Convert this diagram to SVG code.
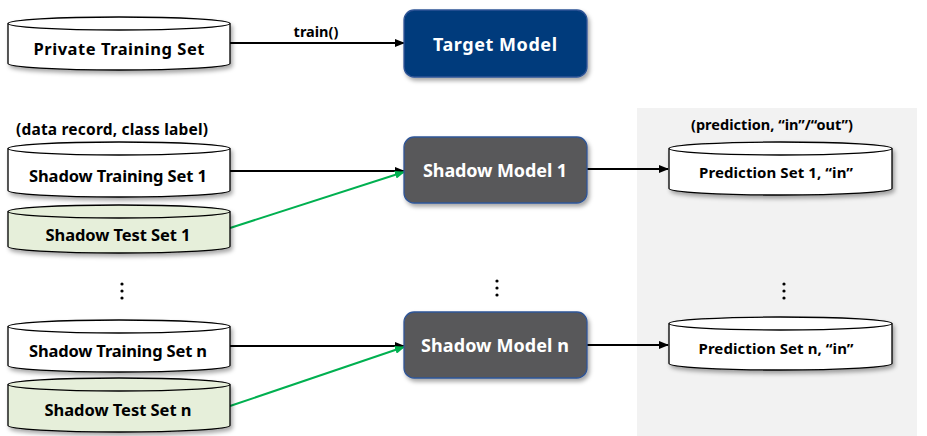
<svg xmlns="http://www.w3.org/2000/svg" width="927" height="436" viewBox="0 0 927 436">
<defs>
<filter id="sh" x="-10%" y="-20%" width="125%" height="150%">
<feDropShadow dx="2" dy="3" stdDeviation="2" flood-color="#000" flood-opacity="0.35"/>
</filter>
<marker id="ab" markerWidth="10" markerHeight="8" refX="9" refY="4" orient="auto" markerUnits="userSpaceOnUse">
<path d="M0,0 L10,4 L0,8 Z" fill="#000"/>
</marker>
<marker id="ag" markerWidth="10" markerHeight="8" refX="9" refY="4" orient="auto" markerUnits="userSpaceOnUse">
<path d="M0,0 L10,4 L0,8 Z" fill="#00b050"/>
</marker>
</defs>
<style>
text{font-family:"Noto Sans","Open Sans","Liberation Sans",sans-serif;font-weight:bold;text-anchor:middle;dominant-baseline:central;}
.cyl{stroke:#000;stroke-width:1.3;filter:url(#sh);}
.w{fill:#fff;}
.g{fill:#e6efda;}
.top{fill:none;stroke:#000;stroke-width:1.3;}
.t{font-size:16.5px;fill:#000;}
.p{font-size:15px;fill:#000;}
.lbl{font-size:15.5px;fill:#000;}
.mt{font-size:18px;fill:#fff;}
.bl{stroke:#000;stroke-width:2;fill:none;}
.gr{stroke:#00b050;stroke-width:2;fill:none;}
.dot{fill:#000;}
</style>
<rect x="637" y="108" width="280" height="328" fill="#f2f2f2"/>

<g id="connectors">
<line class="bl" x1="230" y1="43" x2="404" y2="43" marker-end="url(#ab)"/>
<line class="bl" x1="230" y1="171" x2="404" y2="171" marker-end="url(#ab)"/>
<line class="gr" x1="230" y1="228" x2="404" y2="172" marker-end="url(#ag)"/>
<line class="bl" x1="230" y1="346" x2="404" y2="346" marker-end="url(#ab)"/>
<line class="gr" x1="230" y1="406" x2="404" y2="347" marker-end="url(#ag)"/>
<line class="bl" x1="587" y1="169" x2="668" y2="169" marker-end="url(#ab)"/>
<line class="bl" x1="587" y1="345" x2="668" y2="345" marker-end="url(#ab)"/>
<text class="lbl" x="316" y="31" style="font-size:14.5px">train()</text>
</g>

<g id="private-training-set">
<path class="cyl w" d="M8,23.5 A111,6.5 0 0 1 230,23.5 L230,63.5 A111,6.5 0 0 1 8,63.5 Z"/>
<path class="top" d="M8,23.5 A111,6.5 0 0 0 230,23.5"/>
<text class="t" x="119" y="48" textLength="171">Private Training Set</text>
</g>

<g id="target-model">
<rect x="404" y="10" width="183" height="67" rx="10" fill="#063a7c" stroke="#2f5597" stroke-width="1.3" filter="url(#sh)"/>
<text class="mt" x="495" y="44" textLength="124">Target Model</text>
</g>

<text class="lbl" x="112" y="129" textLength="192">(data record, class label)</text>

<g id="shadow-training-set-1">
<path class="cyl w" d="M8,148.5 A111,6.5 0 0 1 230,148.5 L230,190.5 A111,6.5 0 0 1 8,190.5 Z"/>
<path class="top" d="M8,148.5 A111,6.5 0 0 0 230,148.5"/>
<text class="t" x="118" y="175" textLength="178">Shadow Training Set 1</text>
</g>

<g id="shadow-test-set-1">
<path class="cyl g" d="M8,211.5 A111,6.5 0 0 1 230,211.5 L230,246.5 A111,6.5 0 0 1 8,246.5 Z"/>
<path class="top" d="M8,211.5 A111,6.5 0 0 0 230,211.5"/>
<text class="t" x="118" y="234" textLength="145">Shadow Test Set 1</text>
</g>

<g id="shadow-model-1">
<rect x="404" y="137" width="183" height="66" rx="10" fill="#58585a" stroke="#2f5597" stroke-width="1.3" filter="url(#sh)"/>
<text class="mt" x="495" y="170" textLength="144">Shadow Model 1</text>
</g>

<text class="lbl" x="772" y="124" style="font-size:14.5px" textLength="162">(prediction, “in”/“out”)</text>

<g id="prediction-set-1">
<path class="cyl w" d="M669,148.5 A111.5,6.5 0 0 1 892,148.5 L892,188.5 A111.5,6.5 0 0 1 669,188.5 Z"/>
<path class="top" d="M669,148.5 A111.5,6.5 0 0 0 892,148.5"/>
<text class="p" x="776" y="172" textLength="154">Prediction Set 1, “in”</text>
</g>

<g id="ellipses">
<circle class="dot" cx="122" cy="284" r="1.6"/>
<circle class="dot" cx="122" cy="291" r="1.6"/>
<circle class="dot" cx="122" cy="298" r="1.6"/>
<circle class="dot" cx="497" cy="281" r="1.6"/>
<circle class="dot" cx="497" cy="288" r="1.6"/>
<circle class="dot" cx="497" cy="295" r="1.6"/>
<circle class="dot" cx="784" cy="284" r="1.6"/>
<circle class="dot" cx="784" cy="291" r="1.6"/>
<circle class="dot" cx="784" cy="298" r="1.6"/>
</g>

<g id="shadow-training-set-n">
<path class="cyl w" d="M8,326.5 A111,6.5 0 0 1 230,326.5 L230,365.5 A111,6.5 0 0 1 8,365.5 Z"/>
<path class="top" d="M8,326.5 A111,6.5 0 0 0 230,326.5"/>
<text class="t" x="118" y="350" textLength="178">Shadow Training Set n</text>
</g>

<g id="shadow-test-set-n">
<path class="cyl g" d="M8,384.5 A111,6.5 0 0 1 230,384.5 L230,425.5 A111,6.5 0 0 1 8,425.5 Z"/>
<path class="top" d="M8,384.5 A111,6.5 0 0 0 230,384.5"/>
<text class="t" x="118" y="409" textLength="147">Shadow Test Set n</text>
</g>

<g id="shadow-model-n">
<rect x="404" y="312" width="183" height="66" rx="10" fill="#58585a" stroke="#2f5597" stroke-width="1.3" filter="url(#sh)"/>
<text class="mt" x="495" y="345" textLength="148">Shadow Model n</text>
</g>

<g id="prediction-set-n">
<path class="cyl w" d="M669,323.5 A111.5,6.5 0 0 1 892,323.5 L892,363.5 A111.5,6.5 0 0 1 669,363.5 Z"/>
<path class="top" d="M669,323.5 A111.5,6.5 0 0 0 892,323.5"/>
<text class="p" x="776" y="348" textLength="155">Prediction Set n, “in”</text>
</g>
</svg>
